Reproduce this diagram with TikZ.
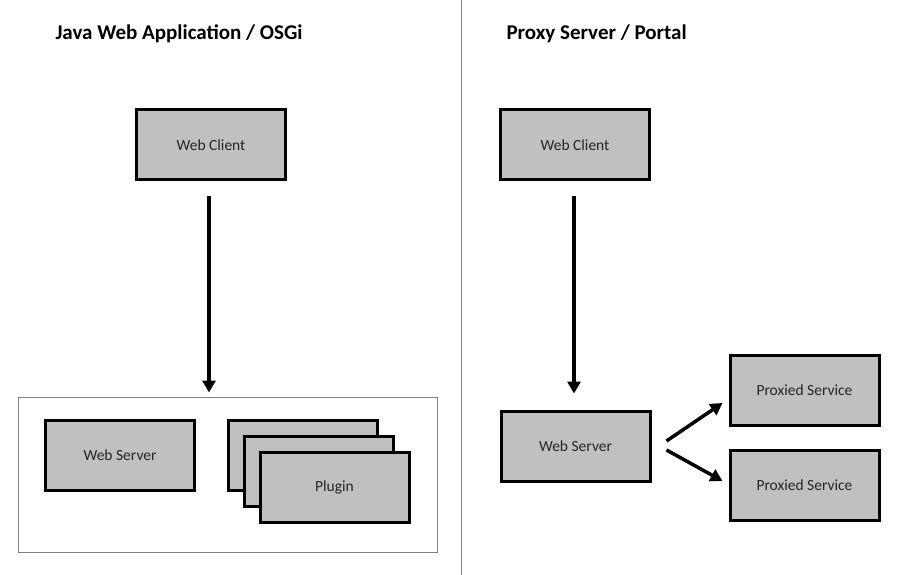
\documentclass[tikz,border=0pt]{standalone}
\usepackage{fontspec}
\setmainfont{Carlito}
\usetikzlibrary{arrows.meta,calc,positioning}
\definecolor{boxgray}{HTML}{C0C0C0}
\definecolor{textgray}{HTML}{262626}
\tikzset{block/.style={draw=black, line width=3pt, fill=boxgray, text=textgray,
    font=\fontsize{15.5}{18}\selectfont, minimum width=149pt, minimum height=70pt, inner sep=0pt}}
\tikzset{paneltitle/.style={anchor=base west, font=\bfseries\fontsize{21}{25}\selectfont}}
\tikzset{flow/.style={line width=3.5pt, -{Triangle[length=12pt,width=13pt]}}}

\begin{document}
\begin{tikzpicture}[x=1pt,y=-1pt]
\useasboundingbox (0,0) rectangle (900,575);
\draw[gray] (461,0)--(461,575);
% left panel
\node[paneltitle] (jtitle) at (52,40) {Java Web Application / OSGi};
\node[block] (jclient) at (211,145) {Web Client};
\node[draw=gray, line width=1pt, minimum width=419pt, minimum height=155pt] (osgi) at (227.5,474.5) {};
\node[block] (jserver) at (120,455.5) {Web Server};
\foreach \i/\t in {1/{},2/{},3/Plugin} {
  \node[block] (plugin\i) at ({302.5+16*(\i-1)},{455.5+16*(\i-1)}) {\t};
}
\draw[flow, shorten <=15pt, shorten >=4pt] ([xshift=-2pt]jclient.south) -- ([xshift=-2pt]jclient.south |- osgi.north);
% right panel
\node[paneltitle] (ptitle) at (503,40) {Proxy Server / Portal};
\node[block] (pclient) at (575,145) {Web Client};
\node[block] (pserver) at (575.5,446) {Web Server};
\node[block] (proxy1) at (804.5,390.5) {Proxied Service};
\node[block] (proxy2) at (804.5,485.5) {Proxied Service};
\draw[flow, shorten <=15pt, shorten >=16pt] ([xshift=-1pt]pclient.south) -- ([xshift=-1pt]pclient.south |- pserver.north);
\draw[flow] ($(pserver.east)+(15,-5)$) -- ($(proxy1.west)+(-6,12.5)$);
\draw[flow] ($(pserver.east)+(15,4)$) -- ($(proxy2.west)+(-6,-4.5)$);
\end{tikzpicture}
\end{document}
